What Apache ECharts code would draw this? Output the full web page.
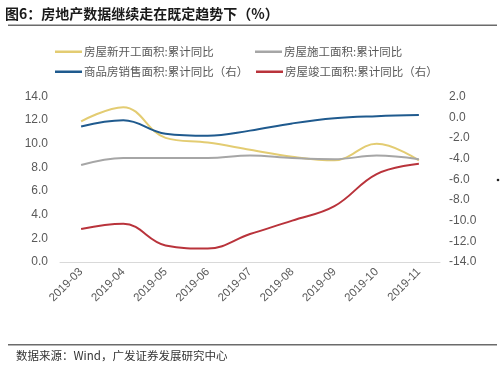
<!DOCTYPE html>
<html>
<head>
<meta charset="utf-8">
<script src="https://cdn.jsdelivr.net/npm/echarts@6/dist/echarts.min.js"></script>
<style>
html,body{margin:0;padding:0;background:#fff;}
#c{width:500px;height:371px;}
</style>
</head>
<body>
<div id="c"></div>
<script>
var categories = ['2019-03','2019-04','2019-05','2019-06','2019-07','2019-08','2019-09','2019-10','2019-11'];
var newStart = [11.9, 13.1, 10.5, 10.1, 9.5, 8.9, 8.6, 10.0, 8.6];
var underConstruction = [8.2, 8.8, 8.8, 8.8, 9.0, 8.8, 8.7, 9.0, 8.7];
var sales = [-0.9, -0.3, -1.6, -1.8, -1.3, -0.6, -0.1, 0.1, 0.2];
var completed = [-10.8, -10.3, -12.4, -12.7, -11.3, -10.0, -8.6, -5.5, -4.5];
var seriesNames = ['房屋新开工面积:累计同比','房屋施工面积:累计同比','商品房销售面积:累计同比（右）','房屋竣工面积:累计同比（右）'];

var colors = ['#E3CC72', '#A6A6A6', '#1F5A8E', '#B9333B'];
var fontCN = '"Noto Sans CJK SC", sans-serif';
var fontNum = 'Arial, "Liberation Sans", sans-serif';

function legendAt(name, left, top) {
  return {
    data: [name], left: left, top: top, icon: 'rect', itemWidth: 27, itemHeight: 2.5, itemGap: 2,
    textStyle: {fontSize: 11.5, color: '#595959', fontFamily: fontCN, padding: [0,0,0,-3]},
    padding: 0
  };
}

function lineSeries(name, data, idx, yIdx) {
  return {
    name: name, type: 'line', data: data, yAxisIndex: yIdx, smooth: 0.4,
    symbol: 'none', lineStyle: {width: 2, color: colors[idx]}, itemStyle: {color: colors[idx]}
  };
}

var chart = echarts.init(document.getElementById('c'), null, {renderer: 'canvas'});
chart.setOption({
  animation: false,
  grid: {left: 60, right: 60, top: 96.5, bottom: 109},
  legend: [
    legendAt(seriesNames[0], 55, 46),
    legendAt(seriesNames[1], 255, 46),
    legendAt(seriesNames[2], 55, 66),
    legendAt(seriesNames[3], 256, 66)
  ],
  xAxis: {
    type: 'category', data: categories, boundaryGap: true,
    axisLine: {lineStyle: {color: '#D9D9D9', width: 1}},
    axisTick: {show: false},
    axisLabel: {rotate: 45, fontSize: 11.5, color: '#595959', fontFamily: fontNum, margin: 8, interval: 0}
  },
  yAxis: [
    {
      type: 'value', min: 0, max: 14, interval: 2, position: 'left',
      splitLine: {show: false}, axisLine: {show: false}, axisTick: {show: false},
      axisLabel: {fontSize: 12, color: '#595959', fontFamily: fontNum, margin: 12, formatter: function(v){return v.toFixed(1);}}
    },
    {
      type: 'value', min: -14, max: 2, interval: 2, position: 'right',
      splitLine: {show: false}, axisLine: {show: false}, axisTick: {show: false},
      axisLabel: {fontSize: 12, color: '#595959', fontFamily: fontNum, margin: 9, formatter: function(v){return v.toFixed(1);}}
    }
  ],
  series: [
    lineSeries(seriesNames[0], newStart, 0, 0),
    lineSeries(seriesNames[1], underConstruction, 1, 0),
    lineSeries(seriesNames[2], sales, 2, 1),
    lineSeries(seriesNames[3], completed, 3, 1)
  ],
  graphic: [
    {type: 'text', left: 5, top: 7, style: {text: '图6：房地产数据继续走在既定趋势下（%）', font: 'bold 14px ' + fontCN, fill: '#1a1a1a'}},
    {type: 'rect', shape: {x: 8, y: 24.5, width: 489, height: 1.5}, style: {fill: '#6b6b6b'}},
    {type: 'rect', shape: {x: 8, y: 344, width: 489, height: 1.5}, style: {fill: '#6b6b6b'}},
    {type: 'text', left: 16, top: 350, style: {text: '数据来源：Wind，广发证券发展研究中心', font: '11.5px ' + fontCN, fill: '#333333'}},
    {type: 'circle', shape: {cx: 498, cy: 180, r: 1.3}, style: {fill: '#222'}}
  ]
});
</script>
</body>
</html>
